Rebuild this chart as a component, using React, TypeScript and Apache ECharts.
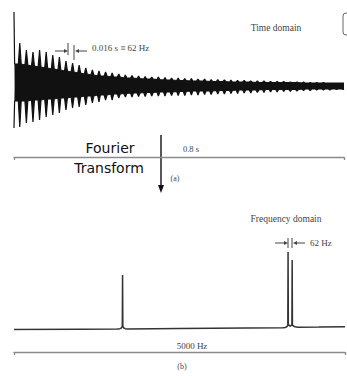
import React, { useEffect, useRef } from "react";
import * as echarts from "echarts";

// ---- Time domain (beats every 0.016 s, amplitude in arbitrary units) ----
const BEAT_PERIOD = 0.016;
const FIRST_BEAT = 0.014;
const INITIAL_SPIKE_UP = 74;
const INITIAL_SPIKE_DOWN = -42;
const UPPER_PEAKS = [
  43, 36, 34, 36, 34, 31, 29, 25, 23, 21, 18, 16, 15, 14, 13, 12, 11,
  10.5, 10, 9.5, 9, 9, 8.5, 8, 8, 7.5, 7.5, 7,
  7, 6.5, 6.5, 6, 6, 5.5, 5.5, 5,
  5, 5, 4.5, 4.5, 4.5, 4, 4,
  4, 3.5, 3.5, 3.5, 3, 3, 3,
];
const UPPER_CORE = [
  22, 21, 20, 19, 18, 17, 16, 15, 14, 13, 12, 11, 10, 10, 9, 9, 8,
  8, 7.5, 7, 7, 6.5, 6, 6, 5.5, 5.5, 5, 5,
  5, 4.5, 4.5, 4.5, 4, 4, 4, 4,
  3.5, 3.5, 3.5, 3.5, 3.5, 3.5, 3.5,
  3, 3, 3, 3, 3, 3, 3,
];
const LOWER_PEAKS = [
  -41, -37, -36, -34, -31, -29, -27, -24, -22, -21, -19, -17, -16, -14, -14, -12, -11,
  -11, -10.5, -10.5, -10, -10, -10, -9.5, -9.5, -9.5, -9, -9,
  -8.5, -8.5, -8, -8, -7.5, -7.5, -7, -7,
  -6.5, -6.5, -6, -6, -5.5, -5.5, -5,
  -4.5, -4.5, -4, -4, -4, -3.5, -3.5,
];
const LOWER_CORE = [
  -15, -15, -14, -14, -13, -13, -12, -12, -11, -11, -10, -10, -9, -9, -8, -8, -7.5,
  -7, -7, -6.5, -6.5, -6, -6, -6, -5.5, -5.5, -5, -5,
  -5, -5, -4.5, -4.5, -4.5, -4, -4, -4,
  -4, -3.5, -3.5, -3.5, -3.5, -3.5, -3.5,
  -3, -3, -3, -3, -3, -3, -3,
];
const TIME_MAX = 0.8;

// ---- Frequency domain ----
const FREQS = [
  0, 1000, 1560, 1600, 1625, 1636, 1640, 1644, 1655, 1680, 1720, 2500, 3500,
  4060, 4100, 4125, 4136, 4140, 4144, 4171, 4198, 4202, 4206, 4220, 4245, 4290, 4600, 5000,
];
const INTENSITY = [
  0.5, 0.7, 0.9, 1.3, 2.2, 4, 55, 4, 2.2, 1.3, 1, 1.5, 2,
  2.2, 2.6, 3.5, 5, 78, 5, 4, 5, 70, 5, 4, 3.2, 2.8, 3, 3.3,
];
const FREQ_MAX = 5000;

const SERIF = "'Liberation Serif', 'DejaVu Serif', serif";
const HAND = "'Comic Sans MS', 'DejaVu Sans', sans-serif";

function buildEnvelope(peaks: number[], core: number[], spike: number): number[][] {
  const pts: number[][] = [[0, spike], [0.0015, core[0]]];
  peaks.forEach((p, i) => {
    const t = FIRST_BEAT + i * BEAT_PERIOD;
    pts.push([t - 0.0035, core[i]]);
    pts.push([t, p]);
    pts.push([Math.min(t + 0.0035, TIME_MAX), core[i]]);
  });
  return pts;
}

function arrowRight(x1: number, x2: number, y: number) {
  return [
    { type: "line", shape: { x1, y1: y, x2: x2 - 3, y2: y }, style: { stroke: "#444", lineWidth: 1 } },
    { type: "polygon", shape: { points: [[x2 - 4, y - 2], [x2, y], [x2 - 4, y + 2]] }, style: { fill: "#444" } },
  ];
}
function arrowLeft(x1: number, x2: number, y: number) {
  return [
    { type: "line", shape: { x1, y1: y, x2: x2 + 3, y2: y }, style: { stroke: "#444", lineWidth: 1 } },
    { type: "polygon", shape: { points: [[x2 + 4, y - 2], [x2, y], [x2 + 4, y + 2]] }, style: { fill: "#444" } },
  ];
}
function vbar(x: number, y1: number, y2: number) {
  return { type: "line", shape: { x1: x, y1, x2: x, y2 }, style: { stroke: "#444", lineWidth: 1 } };
}
function label(text: string, x: number, y: number, size: number, align = "center", font = SERIF, color = "#444") {
  return {
    type: "text",
    x,
    y,
    style: { text, fontFamily: font, fontSize: size, fill: color, align, verticalAlign: "middle" },
  };
}

export default function App() {
  const ref = useRef<HTMLDivElement>(null);
  useEffect(() => {
    if (!ref.current) return;
    const chart = echarts.init(ref.current, null, { renderer: "svg" });
    const upper = buildEnvelope(UPPER_PEAKS, UPPER_CORE, INITIAL_SPIKE_UP);
    const lower = buildEnvelope(LOWER_PEAKS, LOWER_CORE, INITIAL_SPIKE_DOWN);
    const spectrum = FREQS.map((f, i) => [f, INTENSITY[i]]);

    const scaleAxis = (gridIndex: number, max: number, offset: number) => ({
      type: "value",
      gridIndex,
      position: "bottom",
      min: 0,
      max,
      interval: max,
      offset,
      axisLine: { show: true, onZero: false, lineStyle: { color: "#8a8a8a", width: 1.3 } },
      axisTick: { show: true, length: 3, lineStyle: { color: "#8a8a8a", width: 1.3 } },
      axisLabel: { show: false },
      splitLine: { show: false },
    });

    chart.setOption({
      animation: false,
      backgroundColor: "#ffffff",
      grid: [
        { left: 14, right: 3, top: 12, height: 116 },
        { left: 14, right: 2, top: 250, height: 80 },
      ],
      xAxis: [scaleAxis(0, TIME_MAX, 29), scaleAxis(1, FREQ_MAX, 22)],
      yAxis: [
        { type: "value", gridIndex: 0, min: -42, max: 74, show: false, splitLine: { show: false } },
        { type: "value", gridIndex: 1, min: 0, max: 80, show: false, splitLine: { show: false } },
      ],
      series: [
        {
          type: "line",
          xAxisIndex: 0,
          yAxisIndex: 0,
          data: upper,
          symbol: "none",
          lineStyle: { color: "#111", width: 1.2 },
          areaStyle: { color: "#111", opacity: 1 },
        },
        {
          type: "line",
          xAxisIndex: 0,
          yAxisIndex: 0,
          data: lower,
          symbol: "none",
          lineStyle: { color: "#111", width: 1.2 },
          areaStyle: { color: "#111", opacity: 1 },
        },
        {
          type: "line",
          xAxisIndex: 1,
          yAxisIndex: 1,
          data: spectrum,
          symbol: "none",
          lineStyle: { color: "#333", width: 1.5 },
        },
      ],
      graphic: [
        label("Time domain", 276, 28, 9.5),
        {
          type: "rect",
          shape: { x: 343, y: 13, width: 20, height: 22, r: 3 },
          style: { fill: "none", stroke: "#666", lineWidth: 1 },
        },
        ...arrowRight(55, 68, 51),
        vbar(68, 43, 55),
        vbar(74, 45, 60),
        ...arrowLeft(87, 75, 51),
        label("0.016 s \u2261 62 Hz", 92, 48, 9, "left"),
        label("0.8 s", 191, 149, 8.5),
        label("Fourier", 110, 148, 14, "center", HAND, "#111"),
        label("Transform", 109, 168, 14, "center", HAND, "#111"),
        { type: "line", shape: { x1: 161, y1: 135, x2: 161, y2: 187 }, style: { stroke: "#111", lineWidth: 1.4 } },
        { type: "polygon", shape: { points: [[158, 185], [164, 185], [161, 193]] }, style: { fill: "#111" } },
        label("(a)", 175, 178, 8),
        label("Frequency domain", 286, 219, 9.5),
        ...arrowRight(275, 288, 243),
        vbar(288, 238, 248),
        vbar(292, 238, 248),
        ...arrowLeft(305, 293, 243),
        label("62 Hz", 310, 243, 9, "left"),
        label("5000 Hz", 192, 346, 9),
        label("(b)", 182, 366, 8),
      ],
    });
    return () => chart.dispose();
  }, []);
  return <div ref={ref} style={{ width: 347, height: 376, position: "absolute", left: 0, top: 0 }} />;
}
